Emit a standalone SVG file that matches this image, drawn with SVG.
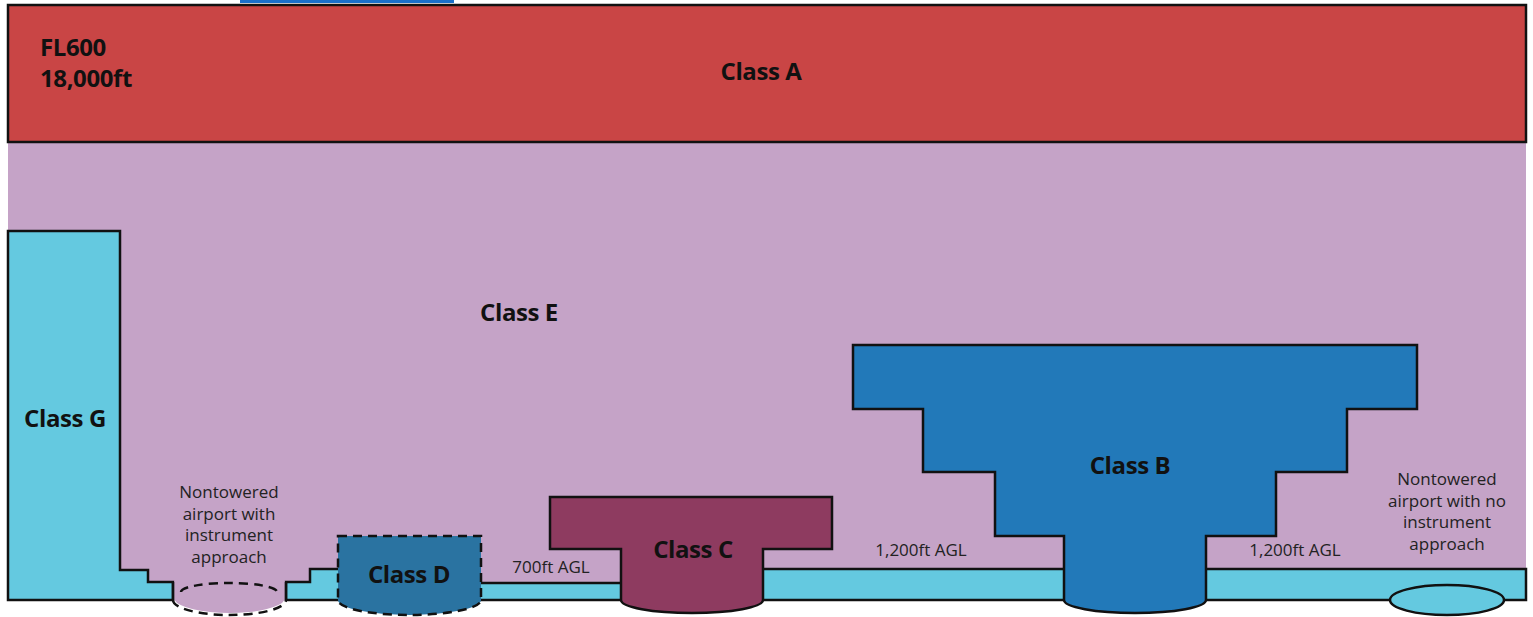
<svg xmlns="http://www.w3.org/2000/svg" width="1533" height="617" viewBox="0 0 1533 617">
<style>
.ln{stroke:#111;stroke-width:2.5;stroke-linejoin:miter}
.dash{stroke:#111;stroke-width:2.5;stroke-dasharray:9 6;fill:none}
.big{font-family:"Open Sans","Noto Sans","Liberation Sans",sans-serif;font-weight:bold;font-size:24px;fill:#111;letter-spacing:-0.4px}
.sm{font-family:"Open Sans","Noto Sans","Liberation Sans",sans-serif;font-size:17px;fill:#222;text-anchor:middle}
</style>
<rect x="0" y="0" width="1533" height="617" fill="#fff"/>
<rect x="240" y="0" width="214" height="3" fill="#1a6fc9"/>
<g id="classE">
<rect x="8" y="142" width="1518" height="458" fill="#c5a3c7"/>
<text class="big" x="519" y="321" text-anchor="middle">Class E</text>
</g>
<g id="classA">
<rect x="8" y="5" width="1518" height="137" fill="#c94545" class="ln"/>
<text class="big" x="40" y="56">FL600</text>
<text class="big" x="40" y="87">18,000ft</text>
<text class="big" x="761" y="80" text-anchor="middle">Class A</text>
</g>
<g id="classG">
<path class="ln" fill="#64c9e0" d="M8,231 H120 V570 H148 V582 H173 V600 H8 Z"/>
<path class="ln" fill="#64c9e0" d="M286,600 V582 H310 V569 H400 V583 H700 V569 H1526 V600 Z"/>
<text class="big" x="65" y="427" text-anchor="middle">Class G</text>
</g>
<g id="nontowered-ifr">
<path fill="#c5a3c7" d="M174.5,581 V600 A55.5,15 0 0 0 284.5,600 V581 Z"/>
<path class="ln" fill="none" d="M173,582 V600 M286,582 V600"/>
<path class="dash" d="M173,600 A56.5,15 0 0 0 286,600"/>
<path class="dash" d="M181,592 A48,9 0 0 1 277,592"/>
<text class="sm"><tspan x="229" y="498">Nontowered</tspan><tspan x="229" y="519.5">airport with</tspan><tspan x="229" y="541">instrument</tspan><tspan x="229" y="562.5">approach</tspan></text>
</g>
<g id="classD">
<path class="dash" style="fill:#2a73a1" d="M338,536 H481 V600 A71.5,15 0 0 1 338,600 Z"/>
<text class="big" x="409" y="583" text-anchor="middle">Class D</text>
</g>
<g id="classC">
<path class="ln" fill="#8e3b60" d="M550,497 H832 V549 H763 V600 A71,13 0 0 1 621,600 V549 H550 Z"/>
<text class="big" x="693" y="558" text-anchor="middle">Class C</text>
</g>
<g id="classB">
<path class="ln" fill="#2279b9" d="M853,345 H1417 V409 H1347 V472 H1276 V536 H1206 V600 A71,13 0 0 1 1064,600 V536 H995 V472 H923 V409 H853 Z"/>
<text class="big" x="1130" y="474" text-anchor="middle">Class B</text>
</g>
<g id="nontowered-vfr">
<ellipse class="ln" fill="#64c9e0" cx="1447" cy="600" rx="57" ry="15"/>
<text class="sm"><tspan x="1447" y="485">Nontowered</tspan><tspan x="1447" y="506.5">airport with no</tspan><tspan x="1447" y="528">instrument</tspan><tspan x="1447" y="549.5">approach</tspan></text>
</g>
<g id="connectors">
<text class="sm" x="551" y="573">700ft AGL</text>
<text class="sm" x="921" y="556">1,200ft AGL</text>
<text class="sm" x="1295" y="556">1,200ft AGL</text>
</g>
</svg>
